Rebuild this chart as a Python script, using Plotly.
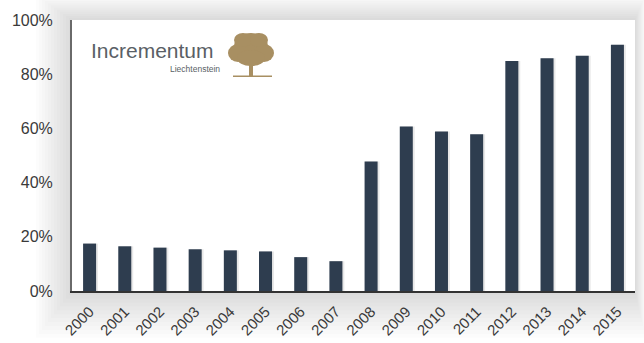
import plotly.graph_objects as go

years = ["2000", "2001", "2002", "2003", "2004", "2005", "2006", "2007",
         "2008", "2009", "2010", "2011", "2012", "2013", "2014", "2015"]
values = [17.5, 16.5, 16.0, 15.4, 15.0, 14.6, 12.5, 11.0,
          47.8, 60.7, 58.9, 57.8, 84.9, 85.9, 86.8, 90.9]
y_ticks = [0, 20, 40, 60, 80, 100]
y_tick_labels = ["0%", "20%", "40%", "60%", "80%", "100%"]

W, H = 644, 343
ML, MR, MT, MB = 72, 9, 20, 52
PW, PH = W - ML - MR, H - MT - MB

fig = go.Figure()

# soft shadow behind bars
fig.add_trace(go.Bar(x=years, y=values, width=0.40, offset=-0.16,
                     marker=dict(color="rgba(0,0,0,0.09)", line=dict(width=0)),
                     hoverinfo="skip", showlegend=False))
fig.add_trace(go.Bar(x=years, y=values, width=0.37, offset=-0.185,
                     marker=dict(color="#2e3d4f", line=dict(width=0)),
                     showlegend=False))

shapes = []
# light gray shadow around the plot area
N = 12
for i in range(N):
    px = (N - i) * 3.0
    shapes.append(dict(type="rect", xref="paper", yref="paper", layer="below",
                       x0=-px / PW, x1=1 + px / PW * 0.3,
                       y0=-px * 1.3 / PH, y1=1 + px * 0.7 / PH,
                       fillcolor="rgba(0,0,0,0.011)", line=dict(width=0)))
# white plot area on top of the shadow
shapes.append(dict(type="rect", xref="paper", yref="paper", layer="below",
                   x0=0, x1=1, y0=0, y1=1, fillcolor="white", line=dict(width=0)))

def px2x(p):
    return (p - ML) / PW

def px2y(p):
    return (H - MB - p) / PH

# tree logo (simple shapes)
tree_col = "#a88f62"
crown = [(251, 47, 17, 14), (238, 53, 10, 9), (264, 53, 10, 9), (251, 58, 14, 8),
         (243, 40, 9, 7), (259, 40, 9, 7)]
for cx, cy, rx, ry in crown:
    shapes.append(dict(type="circle", xref="paper", yref="paper", layer="above",
                       x0=px2x(cx - rx), x1=px2x(cx + rx), y0=px2y(cy + ry), y1=px2y(cy - ry),
                       fillcolor=tree_col, line=dict(width=0)))
shapes.append(dict(type="rect", xref="paper", yref="paper", layer="above",
                   x0=px2x(249), x1=px2x(253), y0=px2y(76), y1=px2y(62),
                   fillcolor=tree_col, line=dict(width=0)))
shapes.append(dict(type="rect", xref="paper", yref="paper", layer="above",
                   x0=px2x(233), x1=px2x(272), y0=px2y(77), y1=px2y(75.5),
                   fillcolor=tree_col, line=dict(width=0)))

annotations = [
    dict(text="Incrementum", xref="paper", yref="paper", x=px2x(89), y=px2y(50),
         xanchor="left", yanchor="middle", showarrow=False,
         font=dict(family="Liberation Sans, Arial", size=21, color="#5a5f66")),
    dict(text="Liechtenstein", xref="paper", yref="paper", x=px2x(222), y=px2y(69),
         xanchor="right", yanchor="middle", showarrow=False,
         font=dict(family="Liberation Sans, Arial", size=8.5, color="#5a5f66")),
]

fig.update_layout(
    width=W, height=H,
    margin=dict(l=ML, r=MR, t=MT, b=MB, pad=0, autoexpand=False),
    paper_bgcolor="white", plot_bgcolor="rgba(0,0,0,0)",
    bargap=0.6,
    shapes=shapes, annotations=annotations,
    font=dict(family="Liberation Sans, Arial", size=16, color="#3a3a3a"),
    xaxis=dict(type="category", range=[-0.5, 15.5], tickangle=-45,
               showline=True, linecolor="#333333", linewidth=2,
               showgrid=False, ticks="", tickfont=dict(size=15),
               ticklabelstandoff=4, automargin=False),
    yaxis=dict(range=[0, 100], tickvals=y_ticks, ticktext=y_tick_labels,
               showline=True, linecolor="#6a6a6a", linewidth=2,
               showgrid=False, zeroline=False, ticks="",
               ticklabelstandoff=14, tickfont=dict(size=16), automargin=False),
)

fig.write_html("out.html")
